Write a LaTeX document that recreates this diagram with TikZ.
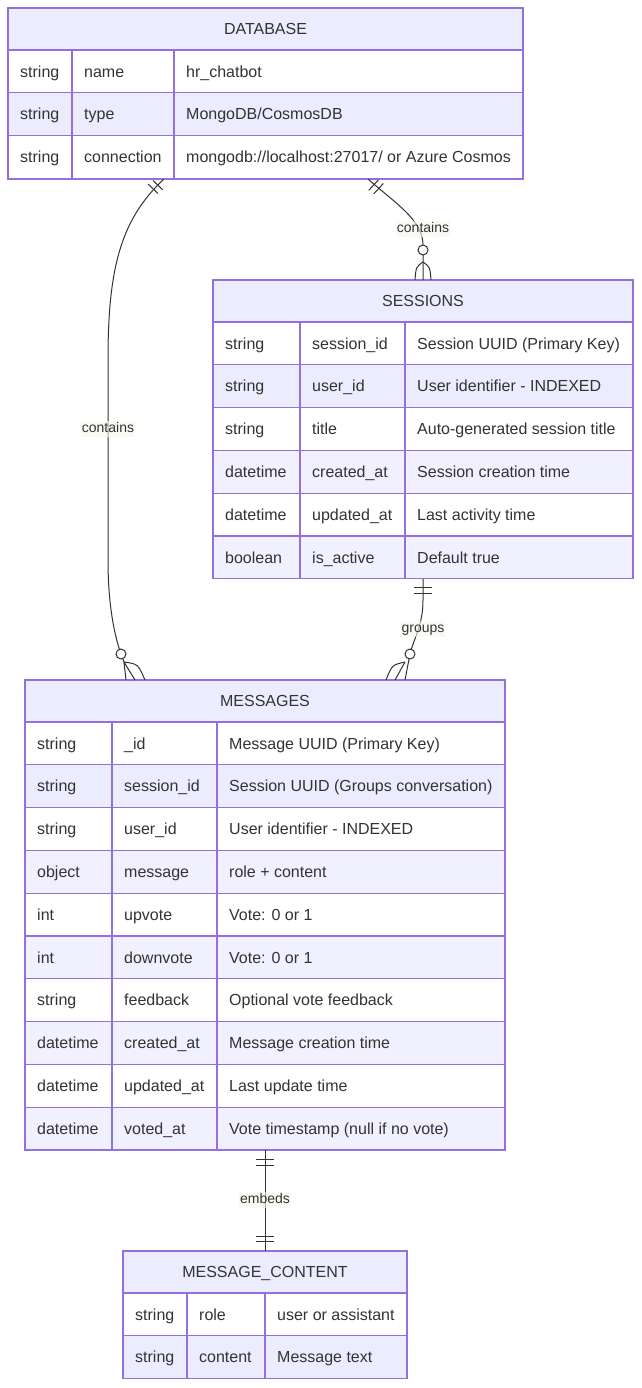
\documentclass[tikz,border=0pt]{standalone}
\usepackage{fontspec}
\setmainfont{Liberation Sans}
\definecolor{hdrfill}{HTML}{ECECFF}
\definecolor{evfill}{HTML}{F1F0FF}
\definecolor{tline}{HTML}{9370DB}
\definecolor{txt}{HTML}{333333}
\definecolor{lblbg}{HTML}{F5F8EA}
\tikzset{
  tline/.style={draw=tline, line width=1.3pt},
  tbl/.style={draw=tline, line width=1.3pt, inner sep=0pt, outer sep=0pt, fill=none, rectangle},
  cell/.style={anchor=base west, inner sep=0pt, text=txt, font=\fontsize{16}{19}\selectfont},
  ttl/.style={anchor=base, inner sep=0pt, text=txt, font=\fontsize{16}{19}\selectfont},
  conn/.style={draw=txt, line width=1pt},
  mk/.style={draw=txt, line width=1pt},
  elbl/.style={fill=lblbg, fill opacity=0.6, text opacity=1, inner sep=1pt, text height=10.5pt, text depth=3pt, text=txt, font=\fontsize{14}{16}\selectfont},
  w/.style={fill=white},
  e/.style={fill=hdrfill},
  f/.style={fill=evfill}
}
\newcommand\settab[4]{\def\tx{#1}\def\txe{#2}\def\tca{#3}\def\tcb{#4}}
\newcommand\hdr[3]{%
  \fill[hdrfill] (\tx,#2) rectangle (\txe,#2+42);
  \node[ttl] (#1) at ({(\tx+\txe)/2},#2+26.7) {#3};}
\newcommand\erow[6]{%
  \fill[#3] (\tx,#2) rectangle (\txe,#2+42.8);
  \draw[tline] (\tx,#2) -- (\txe,#2) (\tca,#2) -- (\tca,#2+42.8) (\tcb,#2) -- (\tcb,#2+42.8);
  \node[cell] (#1a) at (\tx+12,#2+27.1) {#4};
  \node[cell] (#1b) at (\tca+12,#2+27.1) {#5};
  \node[cell] (#1c) at (\tcb+12,#2+27.1) {#6};}
\begin{document}
\begin{tikzpicture}[x=1pt,y=-1pt]
\useasboundingbox (0,0) rectangle (641,1388);
% ---------- DATABASE
\settab{8}{523}{72}{174}
\hdr{dbt}{8}{DATABASE}
\erow{db1}{50}{w}{string}{name}{hr\_chatbot}
\erow{db2}{92.8}{e}{string}{type}{MongoDB/CosmosDB}
\erow{db3}{135.6}{w}{string}{connection}{mongodb://localhost:27017/ or Azure Cosmos}
\node[tbl, minimum width=515pt, minimum height=171pt, anchor=north west] (db) at (8,8) {};
% ---------- SESSIONS
\settab{213}{633}{300}{405}
\hdr{sst}{280}{SESSIONS}
\erow{ss1}{322}{w}{string}{session\_id}{Session UUID (Primary Key)}
\erow{ss2}{364.8}{e}{string}{user\_id}{User identifier - INDEXED}
\erow{ss3}{407.6}{w}{string}{title}{Auto-generated session title}
\erow{ss4}{450.4}{f}{datetime}{created\_at}{Session creation time}
\erow{ss5}{493.2}{w}{datetime}{updated\_at}{Last activity time}
\erow{ss6}{536}{f}{boolean}{is\_active}{Default true}
\node[tbl, minimum width=420pt, minimum height=298.8pt, anchor=north west] (ss) at (213,280) {};
% ---------- MESSAGES
\settab{25}{505}{112}{217}
\hdr{mst}{680}{MESSAGES}
\erow{ms1}{722}{w}{string}{\_id}{Message UUID (Primary Key)}
\erow{ms2}{764.8}{e}{string}{session\_id}{Session UUID (Groups conversation)}
\erow{ms3}{807.6}{w}{string}{user\_id}{User identifier - INDEXED}
\erow{ms4}{850.4}{f}{object}{message}{role + content}
\erow{ms5}{893.2}{w}{int}{upvote}{Vote: 0 or 1}
\erow{ms6}{936}{f}{int}{downvote}{Vote: 0 or 1}
\erow{ms7}{978.8}{w}{string}{feedback}{Optional vote feedback}
\erow{ms8}{1021.6}{f}{datetime}{created\_at}{Message creation time}
\erow{ms9}{1064.4}{w}{datetime}{updated\_at}{Last update time}
\erow{ms10}{1107.2}{f}{datetime}{voted\_at}{Vote timestamp (null if no vote)}
\node[tbl, minimum width=480pt, minimum height=470pt, anchor=north west] (ms) at (25,680) {};
% ---------- MESSAGE_CONTENT
\settab{123}{407}{187}{265}
\hdr{mct}{1251}{MESSAGE\_CONTENT}
\erow{mc1}{1293}{w}{string}{role}{user or assistant}
\erow{mc2}{1335.8}{e}{string}{content}{Message text}
\node[tbl, minimum width=284pt, minimum height=127.6pt, anchor=north west] (mc) at (123,1251) {};
% ---------- connector coordinates
\coordinate (a1) at ([xshift=-101.5pt]db.south);
\coordinate (a2) at ([xshift=-139pt]ms.north);
\coordinate (b1) at ([xshift=102.5pt]db.south);
\coordinate (b2) at ([xshift=210pt]ss.north west);
\coordinate (c1) at (ss.south);
\coordinate (c2) at ([xshift=140pt]ms.north);
% DATABASE -> MESSAGES
\draw[conn] (a1) .. controls (120,220) and (108,270) .. (108,360) -- (108,560)
  .. controls (108,610) and (116,640) .. (121,654) -- (124,662);
\draw[mk] (124,662) -- (a2);
\draw[mk] (124,662) -- (135,680);
\draw[mk] (124,662) .. controls (138,664) .. (145,680);
\draw[mk, fill=white] (121,654) circle (5);
\draw[mk] (153,180.5) -- (163,190) (148,184) -- (158,193.5);
\node[elbl] (l1) at (108,429) {contains};
% DATABASE -> SESSIONS
\draw[conn] (b1) .. controls (395,203) and (423,220) .. (423,245) -- (b2);
\draw[mk] (423,262) .. controls (416,267) .. (415,280);
\draw[mk] (423,262) .. controls (430,267) .. (431,280);
\draw[mk, fill=white] (423,250) circle (5);
\draw[mk] (368.7,190.4) -- (378.3,180) (373.7,193.9) -- (383.3,183.5);
\node[elbl] (l2) at (423,229) {contains};
% SESSIONS -> MESSAGES
\draw[conn] (c1) -- (423,600) .. controls (423,625) and (414,638) .. (410,654) -- (c2);
\draw[mk] (405,662) -- (395,680);
\draw[mk] (405,662) .. controls (392,665) .. (386,680);
\draw[mk, fill=white] (410,654) circle (5);
\draw[mk] (414,587) -- (432,587) (414,593) -- (432,593);
\node[elbl] (l3) at (423,629) {groups};
% MESSAGES -> MESSAGE_CONTENT
\draw[conn] (ms.south) -- (mc.north);
\draw[mk] (256,1159) -- (274,1159) (256,1165) -- (274,1165);
\draw[mk] (256,1236) -- (274,1236) (256,1241) -- (274,1241);
\node[elbl] (l4) at (265,1200) {embeds};
\end{tikzpicture}
\end{document}
